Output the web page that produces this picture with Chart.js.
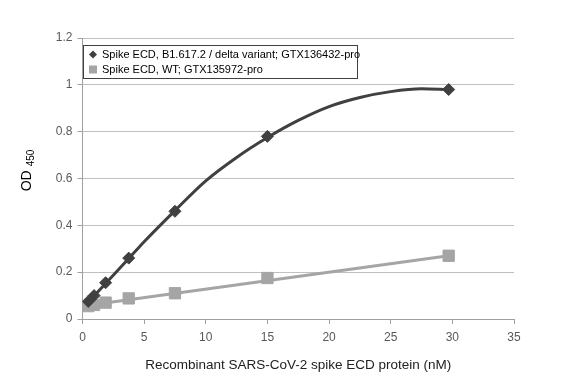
<!DOCTYPE html>
<html>
<head>
<meta charset="utf-8">
<script src="https://cdn.jsdelivr.net/npm/chart.js@4/dist/chart.umd.min.js"></script>
<style>
html,body{margin:0;padding:0;background:#fff;}
#wrap{width:582px;height:382px;position:relative;}
</style>
</head>
<body>
<div id="wrap"><canvas id="c" width="582" height="382"></canvas></div>
<script>
// Data
const concentrations = [0.47, 0.94, 1.875, 3.75, 7.5, 15, 29.7];
const deltaOD = [0.075, 0.100, 0.155, 0.260, 0.460, 0.780, 0.980];
const wtOD = [0.055, 0.060, 0.070, 0.088, 0.110, 0.175, 0.270];
// Trendlines as drawn in the reference
const deltaTrendX = [0.35, 0.94, 1.875, 3.75, 5, 7.5, 10, 12.5, 15, 17.5, 20, 22.5, 25, 27.5, 29.7];
const deltaTrendY = [0.065, 0.098, 0.152, 0.258, 0.330, 0.463, 0.590, 0.690, 0.775, 0.848, 0.907, 0.946, 0.971, 0.983, 0.979];
const wtTrendX = [0.35, 29.7];
const wtTrendY = [0.058, 0.270];
const seriesLabels = ["Spike ECD, B1.617.2 / delta variant; GTX136432-pro", "Spike ECD, WT; GTX135972-pro"];
const xTitle = "Recombinant SARS-CoV-2 spike ECD protein (nM)";
const yTitleMain = "OD";
const yTitleSub = "450";
const xTicks = [0, 5, 10, 15, 20, 25, 30, 35];
const yTicks = [0, 0.2, 0.4, 0.6, 0.8, 1, 1.2];

const FONT = "'Liberation Sans', Arial, sans-serif";
const DARK = '#404040';
const LIGHT = '#a5a5a5';

const toXY = (xs, ys) => xs.map((x, i) => ({x: x, y: ys[i]}));

const yTitlePlugin = {
  id: 'yTitle',
  afterDraw(chart) {
    const ctx = chart.ctx;
    const ca = chart.chartArea;
    ctx.save();
    ctx.translate(27, (ca.top + ca.bottom) / 2 - 8);
    ctx.rotate(-Math.PI / 2);
    ctx.fillStyle = '#000';
    ctx.textBaseline = 'middle';
    ctx.font = '14px ' + FONT;
    const w1 = ctx.measureText(yTitleMain).width;
    ctx.font = '10px ' + FONT;
    const w2 = ctx.measureText(yTitleSub).width;
    const total = w1 + 4 + w2;
    ctx.font = '14px ' + FONT;
    ctx.textAlign = 'left';
    ctx.fillText(yTitleMain, -total / 2, 0);
    ctx.font = '10px ' + FONT;
    ctx.fillText(yTitleSub, -total / 2 + w1 + 4, 4);
    ctx.restore();
  }
};

const legendPlugin = {
  id: 'boxLegend',
  afterDraw(chart) {
    const ctx = chart.ctx;
    const x0 = 83.5, y0 = 45.5, w = 274, h = 33;
    ctx.save();
    ctx.fillStyle = '#fff';
    ctx.fillRect(x0, y0, w, h);
    ctx.strokeStyle = '#404040';
    ctx.lineWidth = 1;
    ctx.strokeRect(x0, y0, w, h);
    ctx.font = '11px ' + FONT;
    ctx.textBaseline = 'middle';
    ctx.textAlign = 'left';
    const rows = [54.5, 69.5];
    chart.data.datasets.slice(0, 2).forEach((ds, i) => {
      const cy = rows[i];
      ctx.fillStyle = ds.pointBackgroundColor;
      if (i === 0) {
        ctx.beginPath();
        ctx.moveTo(93, cy - 4); ctx.lineTo(97, cy); ctx.lineTo(93, cy + 4); ctx.lineTo(89, cy);
        ctx.closePath(); ctx.fill();
      } else {
        ctx.fillRect(89, cy - 4, 8, 8);
      }
      ctx.fillStyle = '#000';
      ctx.fillText(ds.label, 102, cy);
    });
    ctx.restore();
  }
};

new Chart(document.getElementById('c'), {
  type: 'scatter',
  data: {
    datasets: [
      {
        label: seriesLabels[0],
        data: toXY(concentrations, deltaOD),
        showLine: false,
        backgroundColor: DARK,
        borderColor: DARK,
        pointBackgroundColor: DARK,
        pointBorderColor: DARK,
        pointStyle: 'rectRot',
        pointRadius: 6,
        pointBorderWidth: 1,
        order: 1
      },
      {
        label: seriesLabels[1],
        data: toXY(concentrations, wtOD),
        showLine: false,
        backgroundColor: LIGHT,
        borderColor: LIGHT,
        pointBackgroundColor: LIGHT,
        pointBorderColor: LIGHT,
        pointStyle: 'rect',
        pointRadius: 8,
        pointBorderWidth: 1,
        order: 1
      },
      {
        label: 'delta trend',
        data: toXY(deltaTrendX, deltaTrendY),
        showLine: true,
        borderColor: DARK,
        borderWidth: 3,
        pointRadius: 0,
        cubicInterpolationMode: 'monotone',
        order: 2
      },
      {
        label: 'WT trend',
        data: toXY(wtTrendX, wtTrendY),
        showLine: true,
        borderColor: LIGHT,
        borderWidth: 3,
        pointRadius: 0,
        order: 3
      }
    ]
  },
  options: {
    responsive: false,
    animation: false,
    devicePixelRatio: 1,
    layout: { padding: { top: 38, right: 68, left: 0, bottom: 0 } },
    plugins: {
      legend: { display: false },
      tooltip: { enabled: false }
    },
    scales: {
      x: {
        type: 'linear',
        min: 0, max: 35,
        afterBuildTicks: (s) => { s.ticks = xTicks.map(v => ({value: v})); },
        afterFit: (s) => { s.height = 63; },
        grid: { display: true, drawOnChartArea: false, drawTicks: true, tickLength: 5, color: '#a0a0a0' },
        border: { display: true, color: '#a0a0a0', width: 1 },
        ticks: { color: '#595959', font: { family: FONT, size: 12 }, padding: 6 },
        title: { display: true, text: xTitle, color: '#222', font: { family: FONT, size: 13.5 }, padding: { top: 0, bottom: 9 } }
      },
      y: {
        type: 'linear',
        min: 0, max: 1.2,
        afterBuildTicks: (s) => { s.ticks = yTicks.map(v => ({value: v})); },
        afterFit: (s) => { s.width = 82.5; },
        grid: { display: true, color: '#c0c0c0', drawTicks: true, tickLength: 5, tickColor: '#a0a0a0' },
        border: { display: true, color: '#a0a0a0', width: 1 },
        ticks: { color: '#595959', font: { family: FONT, size: 12 }, padding: 5, callback: (v) => String(Math.round(v * 10) / 10) }
      }
    }
  },
  plugins: [yTitlePlugin, legendPlugin]
});
</script>
</body>
</html>
